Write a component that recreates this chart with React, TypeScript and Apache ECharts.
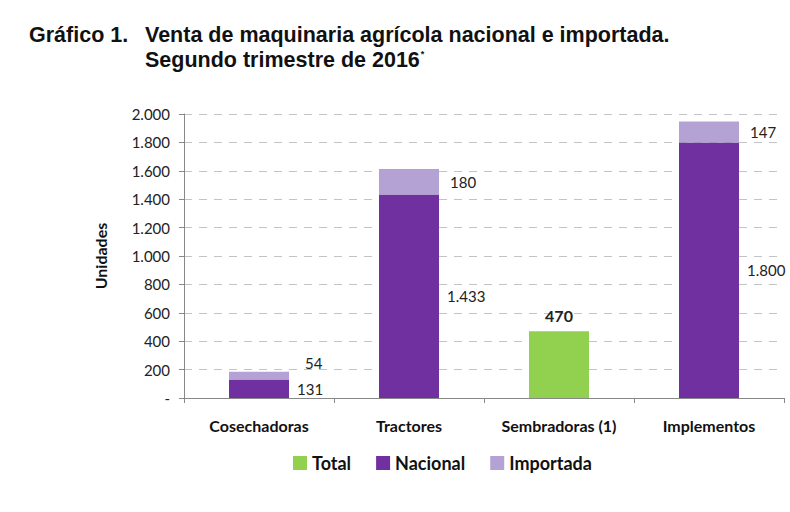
import React, { useEffect, useRef } from "react";
import * as echarts from "echarts";

const categories = ["Cosechadoras", "Tractores", "Sembradoras (1)", "Implementos"];
const totalValues: (number | null)[] = [null, null, 470, null];
const nacionalValues: (number | null)[] = [131, 1433, null, 1800];
const importadaValues: (number | null)[] = [54, 180, null, 147];
const yTicks = { min: 0, max: 2000, interval: 200 };

const fmt = (v: number) =>
  v === 0 ? "-" : String(Math.round(v)).replace(/\B(?=(\d{3})+(?!\d))/g, ".");

const FONT = "Lato, 'Open Sans', sans-serif";
const TITLE_FONT = "'Liberation Sans', Arial, sans-serif";

export default function App() {
  const ref = useRef<HTMLDivElement>(null);

  useEffect(() => {
    if (!ref.current) return;
    const chart = echarts.init(ref.current, null, { renderer: "svg" });

    const labelStyle = { color: "#222", fontSize: 15, fontFamily: FONT };

    chart.setOption({
      animation: false,
      backgroundColor: "#fff",
      graphic: [
        {
          type: "text",
          left: 29,
          top: 24,
          style: {
            text: "Gráfico 1.",
            font: `bold 21.5px ${TITLE_FONT}`,
            fill: "#111",
          },
        },
        {
          type: "text",
          left: 145,
          top: 24,
          style: {
            text: "Venta de maquinaria agrícola nacional e importada.",
            font: `bold 21.5px ${TITLE_FONT}`,
            fill: "#111",
          },
        },
        {
          type: "text",
          left: 145,
          top: 49,
          style: {
            text: "{a|Segundo trimestre de 2016}{s|*}",
            rich: {
              a: { font: `bold 21.5px ${TITLE_FONT}`, fill: "#111" },
              s: {
                font: `bold 9px ${TITLE_FONT}`,
                fill: "#111",
                verticalAlign: "top",
                padding: [0, 0, 12, 1],
              },
            },
          },
        },
      ],
      legend: {
        data: ["Total", "Nacional", "Importada"],
        top: 454,
        left: 293,
        padding: 0,
        itemWidth: 14,
        itemHeight: 14,
        itemGap: 25,
        icon: "rect",
        textStyle: { fontFamily: FONT, fontWeight: "bold", fontSize: 18, color: "#111" },
      },
      grid: { left: 184, right: 6, top: 114, bottom: 114, containLabel: false },
      xAxis: {
        type: "category",
        data: categories,
        axisLine: { lineStyle: { color: "#888" } },
        axisTick: { show: true, length: 5, lineStyle: { color: "#888" } },
        axisLabel: {
          fontFamily: FONT,
          fontWeight: "bold",
          fontSize: 16,
          color: "#111",
          margin: 19,
        },
      },
      yAxis: {
        type: "value",
        min: yTicks.min,
        max: yTicks.max,
        interval: yTicks.interval,
        name: "Unidades",
        nameLocation: "middle",
        nameGap: 76,
        nameTextStyle: { fontFamily: FONT, fontWeight: "bold", fontSize: 16, color: "#111" },
        axisLine: { show: true, lineStyle: { color: "#888" } },
        axisTick: { show: true, length: 5, lineStyle: { color: "#888" } },
        axisLabel: {
          formatter: fmt,
          fontFamily: FONT,
          fontSize: 15,
          color: "#222",
          margin: 14,
        },
        splitLine: { lineStyle: { color: "#c4c4c4", type: [8, 7], width: 1 } },
      },
      series: [
        {
          name: "Total",
          type: "bar",
          stack: "u",
          barWidth: "40%",
          itemStyle: { color: "#92D050" },
          data: totalValues,
          label: {
            show: true,
            position: "top",
            distance: 8,
            ...labelStyle,
            fontSize: 16,
            fontWeight: "bold",
            formatter: (p: any) => fmt(p.value),
          },
        },
        {
          name: "Nacional",
          type: "bar",
          stack: "u",
          barWidth: "40%",
          itemStyle: { color: "#7030A0" },
          data: nacionalValues,
          label: {
            show: true,
            position: "right",
            distance: 8,
            ...labelStyle,
            formatter: (p: any) => fmt(p.value),
          },
        },
        {
          name: "Importada",
          type: "bar",
          stack: "u",
          barWidth: "40%",
          itemStyle: { color: "#B4A2D4" },
          data: importadaValues.map((v, i) =>
            i === 0 ? { value: v, label: { offset: [5, -13] } } : v
          ),
          label: {
            show: true,
            position: "right",
            distance: 11,
            ...labelStyle,
            formatter: (p: any) => fmt(p.value),
          },
        },
      ],
    });

    return () => chart.dispose();
  }, []);

  return (
    <div
      ref={ref}
      style={{ position: "absolute", left: 0, top: 0, width: 790, height: 512 }}
    />
  );
}
